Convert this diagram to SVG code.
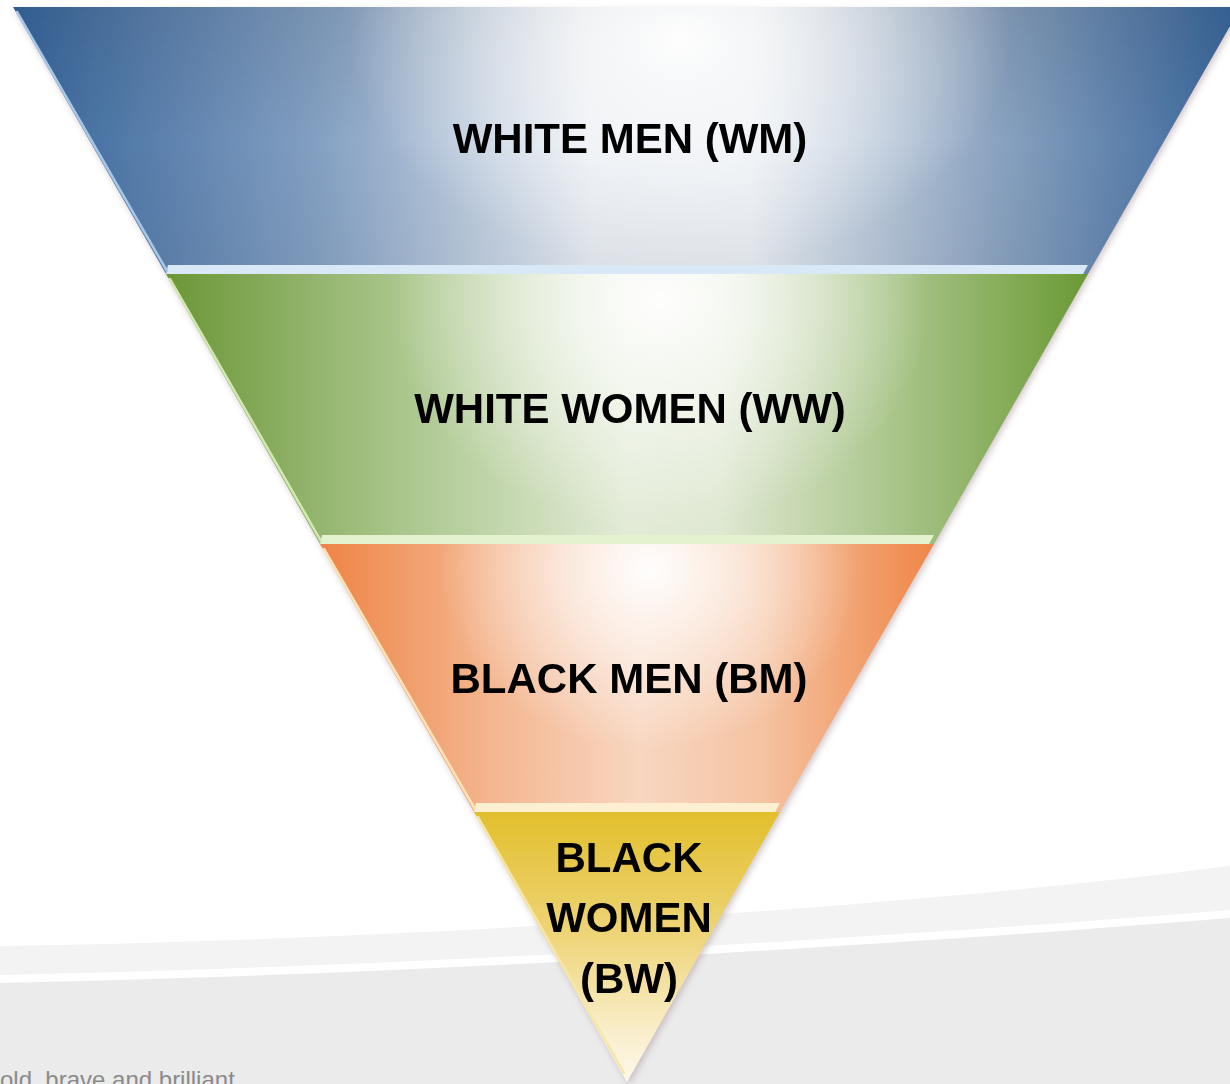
<svg xmlns="http://www.w3.org/2000/svg" width="1230" height="1084" viewBox="0 0 1230 1084">
<style>
.lbl{font-family:"Liberation Sans",Arial,sans-serif;font-weight:bold;font-size:42px;fill:#000;text-anchor:middle}
.foot{font-family:"Liberation Sans",Arial,sans-serif;font-size:24px;fill:#8a8a8a}
.edge{stroke-width:2.5;fill:none;stroke-linecap:round}
</style>
<defs>
<linearGradient id="gBlue" gradientUnits="userSpaceOnUse" x1="13" y1="0" x2="1241" y2="0">
<stop offset="0" stop-color="#36649a"/>
<stop offset="0.25" stop-color="#84a0c2"/>
<stop offset="0.47" stop-color="#e4e9f0"/>
<stop offset="0.6" stop-color="#e6ebf1"/>
<stop offset="0.8" stop-color="#8ba3c0"/>
<stop offset="1" stop-color="#36649a"/>
</linearGradient>
<linearGradient id="gGreen" gradientUnits="userSpaceOnUse" x1="165" y1="0" x2="1088" y2="0">
<stop offset="0" stop-color="#6a9636"/>
<stop offset="0.25" stop-color="#a9c58a"/>
<stop offset="0.5" stop-color="#e2ebd6"/>
<stop offset="0.6" stop-color="#dfe8d2"/>
<stop offset="0.8" stop-color="#a7c387"/>
<stop offset="1" stop-color="#6a9a34"/>
</linearGradient>
<linearGradient id="gOrange" gradientUnits="userSpaceOnUse" x1="320" y1="0" x2="934" y2="0">
<stop offset="0" stop-color="#ee8444"/>
<stop offset="0.28" stop-color="#f4b690"/>
<stop offset="0.52" stop-color="#f8d6c0"/>
<stop offset="0.72" stop-color="#f5c3a2"/>
<stop offset="1" stop-color="#ef8647"/>
</linearGradient>
<linearGradient id="gYellow" gradientUnits="userSpaceOnUse" x1="0" y1="812" x2="0" y2="1082">
<stop offset="0" stop-color="#e2bf2c"/>
<stop offset="0.45" stop-color="#eed477"/>
<stop offset="0.8" stop-color="#f9edc8"/>
<stop offset="1" stop-color="#fdf8ec"/>
</linearGradient>
<radialGradient id="glow" cx="0.5" cy="0.5" r="0.5">
<stop offset="0" stop-color="#ffffff" stop-opacity="0.95"/>
<stop offset="0.45" stop-color="#ffffff" stop-opacity="0.55"/>
<stop offset="1" stop-color="#ffffff" stop-opacity="0"/>
</radialGradient>
<linearGradient id="topShade" x1="0" y1="0" x2="0" y2="1">
<stop offset="0" stop-color="#000" stop-opacity="0.08"/>
<stop offset="0.5" stop-color="#000" stop-opacity="0"/>
<stop offset="1" stop-color="#000" stop-opacity="0.04"/>
</linearGradient>
<clipPath id="cBlue"><polygon points="13,7 1241,7 1088,274 166,274"/></clipPath>
<clipPath id="cGreen"><polygon points="166,274 1088,274 934,544 320,544"/></clipPath>
<clipPath id="cOrange"><polygon points="320,544 934,544 780,812 474,812"/></clipPath>
<filter id="shadow" x="-5%" y="-5%" width="110%" height="110%">
<feGaussianBlur in="SourceAlpha" stdDeviation="3"/>
<feOffset dx="2" dy="3" result="b"/>
<feFlood flood-color="#a08890" flood-opacity="0.45"/>
<feComposite in2="b" operator="in"/>
<feMerge><feMergeNode/><feMergeNode in="SourceGraphic"/></feMerge>
</filter>
</defs>
<rect width="1230" height="1084" fill="#ffffff"/>
<g id="background">
<path d="M0,946 C400,940 900,908 1230,866 L1230,1084 L0,1084 Z" fill="#f3f3f3"/>
<path d="M0,975 C400,967 900,937 1230,910 L1230,1084 L0,1084 Z" fill="#ffffff"/>
<path d="M0,983 C400,975 900,945 1230,918 L1230,1084 L0,1084 Z" fill="#ebebeb"/>
<text class="foot" x="0" y="1088">old, brave and brilliant</text>
</g>
<g id="funnel" filter="url(#shadow)">
<g id="wm">
<polygon points="13,7 1241,7 1088,274 166,274" fill="url(#gBlue)"/>
<polygon points="13,7 1241,7 1088,274 166,274" fill="url(#topShade)"/>
<ellipse cx="680" cy="40" rx="330" ry="230" fill="url(#glow)" clip-path="url(#cBlue)"/>
<polygon points="168,265 1088,265 1083,274 166,274" fill="#d9e8f6"/>
<line class="edge" x1="17" y1="12" x2="167" y2="271" stroke="#a9c8e8"/>
<text class="lbl" x="630" y="153">WHITE MEN (WM)</text>
</g>
<g id="ww">
<polygon points="166,274 1088,274 934,544 320,544" fill="url(#gGreen)"/>
<ellipse cx="660" cy="300" rx="270" ry="230" fill="url(#glow)" clip-path="url(#cGreen)"/>
<polygon points="322,535 934,535 929,544 320,544" fill="#e4f2cf"/>
<line class="edge" x1="170" y1="279" x2="321" y2="541" stroke="#d2eab0"/>
<text class="lbl" x="630" y="423">WHITE WOMEN (WW)</text>
</g>
<g id="bm">
<polygon points="320,544 934,544 780,812 474,812" fill="url(#gOrange)"/>
<ellipse cx="650" cy="570" rx="210" ry="180" fill="url(#glow)" clip-path="url(#cOrange)"/>
<polygon points="476,803 780,803 775,812 474,812" fill="#fdf0d2"/>
<line class="edge" x1="324" y1="549" x2="475" y2="809" stroke="#fbe3b8"/>
<text class="lbl" x="629" y="693">BLACK MEN (BM)</text>
</g>
<g id="bw">
<polygon points="474,812 780,812 627,1082" fill="url(#gYellow)"/>
<line class="edge" x1="478" y1="817" x2="624" y2="1073" stroke="#f6e7a6"/>
<text class="lbl" x="629" y="872">BLACK</text>
<text class="lbl" x="629" y="932">WOMEN</text>
<text class="lbl" x="629" y="993">(BW)</text>
</g>
</g>
</svg>
